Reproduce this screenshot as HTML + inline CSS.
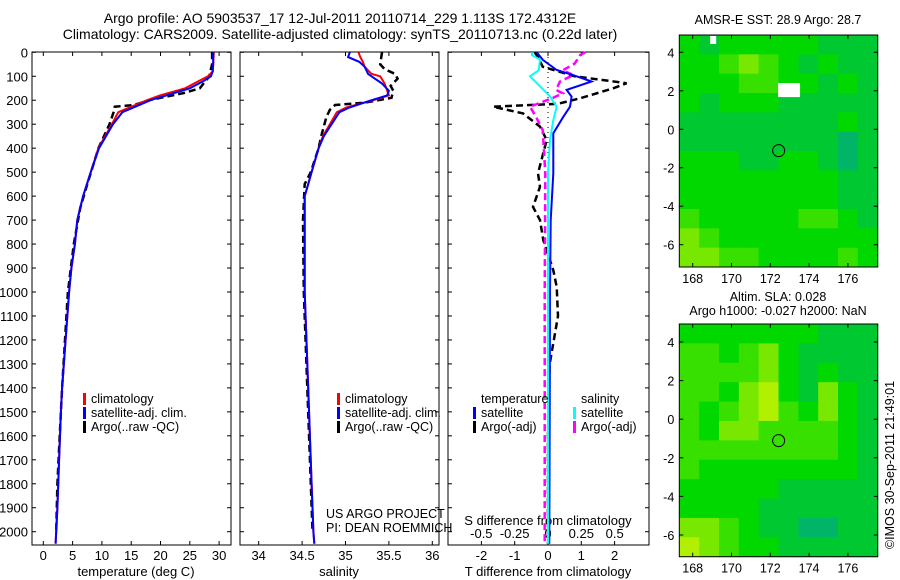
<!DOCTYPE html>
<html><head><meta charset="utf-8"><style>
body{margin:0;background:#fff}
svg{display:block;font-family:"Liberation Sans",sans-serif}
</style></head><body>
<svg id="c" width="900" height="580" viewBox="0 0 900 580" xmlns="http://www.w3.org/2000/svg">
<rect width="900" height="580" fill="#fff"/>
<text x="340" y="23" font-size="14" text-anchor="middle">Argo profile: AO 5903537_17 12-Jul-2011 20110714_229 1.113S 172.4312E</text>
<text x="340" y="39" font-size="14" text-anchor="middle">Climatology: CARS2009. Satellite-adjusted climatology: synTS_20110713.nc (0.22d later)</text>
<text x="778" y="24" font-size="12.5" text-anchor="middle">AMSR-E SST: 28.9 Argo: 28.7</text>
<text x="778" y="301" font-size="12.5" text-anchor="middle">Altim. SLA: 0.028</text>
<text x="778" y="315" font-size="12.5" text-anchor="middle">Argo h1000: -0.027 h2000: NaN</text>
<text transform="translate(894,465) rotate(-90)" font-size="12.5" text-anchor="middle">©IMOS 30-Sep-2011 21:49:01</text>
<text x="326" y="518" font-size="12.5">US ARGO PROJECT</text>
<text x="326" y="532" font-size="12.5">PI: DEAN ROEMMICH</text>
<g id="g"></g>
</svg>
<script>
// ---- data ----
const depthT = [0,50,80,100,120,150,180,200,250,300,400,500,600,700,800,900,1000,1200,1400,1500,1700,1900,2000,2050];
const tempClim = [29.1,29.0,28.9,28.1,26.5,24.2,19.9,17.7,12.8,11.7,9.4,8.1,6.8,5.8,5.4,4.8,4.4,3.8,3.2,3.0,2.7,2.4,2.2,2.1];
const tempSat  = [29.0,29.0,28.9,28.6,27.3,25.0,21.0,18.3,13.5,11.9,9.5,8.1,6.8,5.8,5.4,4.8,4.4,3.8,3.2,3.0,2.7,2.4,2.2,2.1];
const depthTA = [0,50,100,110,150,170,200,220,227,250,300,400,550,650,800,1000,1200,1400,1600,1800,2000];
const tempArgo = [28.8,28.8,28.3,28.0,26.7,24.0,18.0,15.5,12.2,12.0,11.3,9.4,7.5,6.3,5.2,4.2,3.7,3.2,2.8,2.4,2.2];
const depthS = [0,20,40,60,90,100,130,160,180,200,230,250,300,350,400,500,550,600,1000,1400,1600,1800,2000,2050];
const salClim = [35.15,35.17,35.2,35.22,35.3,35.4,35.45,35.48,35.5,35.32,35.01,34.9,34.82,34.74,34.69,34.61,34.57,34.53,34.53,34.57,34.59,34.61,34.63,34.64];
const salSat  = [35.05,35.03,35.16,35.22,35.26,35.3,35.42,35.5,35.48,35.3,35.05,34.93,34.84,34.75,34.69,34.61,34.57,34.53,34.53,34.57,34.59,34.61,34.63,34.64];
const depthSA = [0,50,70,90,110,140,160,190,210,220,240,270,350,400,500,550,700,1000,1400,1800,2000];
const salArgo = [35.42,35.4,35.45,35.57,35.6,35.52,35.55,35.53,35.23,34.88,34.82,34.78,34.72,34.69,34.6,34.53,34.51,34.52,34.56,34.6,34.62];
const depthD = [0,32,74,95,122,157,185,227,269,338,505,700,1000,1500,2050];
const dTsat = [-0.34,-0.15,0.26,0.75,1.31,0.56,0.71,0.66,0.46,0.16,0.16,0.08,0.06,0.05,0.04];
const depthDA = [0,20,60,100,129,150,192,215,227,255,310,366,505,561,645,700,784,909,979,1100,1300,1600,2050];
const dTargo = [-0.4,-0.3,-0.16,0.8,2.36,1.96,0.96,0.3,-1.65,-0.75,-0.24,-0.04,-0.3,-0.24,-0.45,-0.24,-0.14,0.16,0.26,0.3,0.05,0.0,0.0];
const depthDS = [0,12,30,75,100,142,184,227,283,366,505,1000,2050];
const dSsat = [-0.12,-0.12,-0.06,-0.07,-0.135,-0.06,0.015,0.065,0.04,0.015,0.0,0.0,0.0];
const depthDSA = [0,12,47,75,95,122,157,171,192,227,269,324,505,1000,2050];
const dSargo = [0.28,0.24,0.2,0.11,0.19,0.09,0.06,0.11,0.03,-0.135,-0.09,-0.04,-0.02,-0.025,-0.025];
const depthTicks = [0,100,200,300,400,500,600,700,800,900,1000,1100,1200,1300,1400,1500,1600,1700,1800,1900,2000];
const tempTicks = [0,5,10,15,20,25,30];
const salTicks = [34,34.5,35,35.5,36];
const salTickLabels = ["34","34.5","35","35.5","36"];
const tdTicks = [-2,-1,0,1,2];
const sdTicks = [-0.5,-0.25,0,0.25,0.5];
const sdTickLabels = ["-0.5","-0.25","0","0.25","0.5"];
const latTicks = [4,2,0,-2,-4,-6];
const lonTicks = [168,170,172,174,176];
const floatLon = 172.43, floatLat = -1.11;
const sstGrid = [
[2,1,2,2,2,2,2,1,1,1],[2,2,3,4,3,2,1,2,1,1],[2,2,2,3,3,2,2,1,2,1],[2,1,2,2,2,1,1,1,1,1],
[1,1,1,1,1,1,1,1,2,1],[1,1,1,1,1,1,1,1,0,1],[2,2,2,1,1,2,2,1,0,1],[2,2,2,2,2,2,2,2,1,1],
[2,2,2,2,2,2,2,2,1,1],[3,2,2,2,2,2,3,3,2,1],[4,3,2,2,2,2,2,2,2,2],[4,4,3,3,2,2,2,2,3,2]];
const slaGrid = [
[2,2,2,2,2,2,2,1,1,1],[3,3,2,3,4,2,1,1,1,1],[3,3,3,3,4,2,1,2,1,1],[3,3,2,4,5,2,1,4,2,1],
[3,2,3,4,5,3,2,4,2,1],[3,2,4,4,3,3,3,3,2,1],[3,3,3,3,3,3,3,3,2,1],[3,2,2,2,2,2,2,2,2,1],
[2,2,2,2,2,1,1,1,1,1],[2,2,2,2,1,1,1,1,1,1],[4,4,3,2,1,1,0,0,1,1],[5,4,3,2,2,1,1,1,1,1]];
const levelColors = ["#00b468","#00c830","#00d800","#38e000","#78e800","#b0f000"];

// ---- drawing ----
const NS="http://www.w3.org/2000/svg", G=document.getElementById('g');
function mk(tag,at,parent){const e=document.createElementNS(NS,tag);for(const k in at)e.setAttribute(k,at[k]);(parent||G).appendChild(e);return e;}
const yTop=52.3, yPer=0.2397;
const yD=d=>yTop+d*yPer;
const xT=t=>43.3+t*5.86;
const xS=s=>258.7+(s-34)*86.8;
const xDT=t=>548+t*33.3;
const xDS=s=>548+s*133.3;
function line(xs,ds,xf,color,dash,name){
  const p=mk('polyline',{points:xs.map((v,i)=>xf(v).toFixed(1)+','+yD(ds[i]).toFixed(1)).join(' '),fill:'none',stroke:color,'stroke-width':dash?2.5:2,'stroke-dasharray':dash?'7,4':'none'});
  
  
}
function panel(x0,x1,name){
  const r=mk('rect',{x:x0,y:52,width:x1-x0,height:493,fill:'none',stroke:'#000','stroke-width':1});
  
  
  depthTicks.forEach(d=>{mk('line',{x1:x0,x2:x0+4,y1:yD(d),y2:yD(d),stroke:'#000'});mk('line',{x1:x1,x2:x1-4,y1:yD(d),y2:yD(d),stroke:'#000'});});
}
panel(32,231,'temperature-panel');
panel(240,439,'salinity-panel');
panel(448,649,'difference-panel');
depthTicks.forEach(d=>{const t=mk('text',{x:28,y:yD(d)+5,'font-size':13,'text-anchor':'end'});t.textContent=d;
  
  });
function xticks(vals,labels,xf,yl,ticks){vals.forEach((v,i)=>{
  if(ticks){mk('line',{x1:xf(v),x2:xf(v),y1:52,y2:56,stroke:'#000'});mk('line',{x1:xf(v),x2:xf(v),y1:545,y2:541,stroke:'#000'});}
  const t=mk('text',{x:xf(v),y:yl,'font-size':13,'text-anchor':'middle'});t.textContent=labels[i];
  
  });}
xticks(tempTicks,tempTicks.map(String),xT,560,true);
xticks(salTicks,salTickLabels,xS,560,true);
xticks(tdTicks,tdTicks.map(String),xDT,560,true);
xticks(sdTicks,sdTickLabels,xDS,538,false);
[['temperature (deg C)',136,'temperature-axis-title'],['salinity',339,'salinity-axis-title'],['T difference from climatology',548,'t-diff-axis-title']].forEach(a=>{
  const t=mk('text',{x:a[1],y:576,'font-size':13,'text-anchor':'middle'});t.textContent=a[0];
  
  });
{const t=mk('text',{x:548,y:525,'font-size':13,'text-anchor':'middle'});t.textContent='S difference from climatology';
  
  }
// zero line
mk('line',{x1:548,x2:548,y1:52,y2:545,stroke:'#000','stroke-dasharray':'1,4'});
line(tempArgo,depthTA,xT,'#000',true,'temp-argo-line');
line(tempClim,depthT,xT,'#f00',false,'temp-clim-line');
line(tempSat,depthT,xT,'#00f',false,'temp-sat-line');
line(salArgo,depthSA,xS,'#000',true,'sal-argo-line');
line(salClim,depthS,xS,'#f00',false,'sal-clim-line');
line(salSat,depthS,xS,'#00f',false,'sal-sat-line');
line(dTargo,depthDA,xDT,'#000',true,'tdiff-argo-line');
line(dSargo,depthDSA,xDS,'#f0f',true,'sdiff-argo-line');
line(dTsat,depthD,xDT,'#00f',false,'tdiff-sat-line');
line(dSsat,depthDS,xDS,'#0ff',false,'sdiff-sat-line');
// legends
function leg(x,y,color,label,name){if(color)mk('rect',{x:x,y:y-10,width:3,height:12,fill:color});
  const t=mk('text',{x:x+8,y:y,'font-size':12.5});t.textContent=label;
  
  }
[[83,'climatology','#f00'],[83,'satellite-adj. clim.','#00f'],[83,'Argo(..raw -QC)','#000']].forEach((a,i)=>{leg(a[0],403+i*14,a[2],a[1],'temp-legend-entry');leg(337,403+i*14,a[2],a[1],'sal-legend-entry');});
leg(473,403,null,'temperature','diff-legend-temp-header');
leg(473,417,'#00f','satellite','diff-legend-temp-sat');
leg(473,431,'#000','Argo(-adj)','diff-legend-temp-argo');
leg(573,403,null,'salinity','diff-legend-sal-header');
leg(573,417,'#0ff','satellite','diff-legend-sal-sat');
leg(573,431,'#f0f','Argo(-adj)','diff-legend-sal-argo');
// maps
const mx0=679.3,mx1=877.7;
const xL=l=>692.7+(l-168)*19.4;
function map(grid,yT,yB,lat4,latPer,name){
  const gEl=mk('g',{});
  
  
  const yLat=l=>lat4+(4-l)*latPer;
  const rows=grid.length, cols=grid[0].length, cw=(mx1-mx0)/cols, ch=(yB-yT)/rows;
  grid.forEach((row,r)=>row.forEach((v,c)=>{const cell=mk('rect',{x:mx0+c*cw,y:yT+r*ch,width:cw+0.5,height:ch+0.5,fill:levelColors[v]},gEl);
    
    }));
  mk('rect',{x:mx0,y:yT,width:mx1-mx0,height:yB-yT,fill:'none',stroke:'#000'},gEl);
  latTicks.forEach(l=>{const y=yLat(l);mk('line',{x1:mx0,x2:mx0+4,y1:y,y2:y,stroke:'#000'},gEl);mk('line',{x1:mx1,x2:mx1-4,y1:y,y2:y,stroke:'#000'},gEl);
    const t=mk('text',{x:mx0-5,y:y+5,'font-size':12.5,'text-anchor':'end'},gEl);t.textContent=l;
    
    });
  lonTicks.forEach(l=>{const x=xL(l);mk('line',{x1:x,x2:x,y1:yT,y2:yT+4,stroke:'#000'},gEl);mk('line',{x1:x,x2:x,y1:yB,y2:yB-4,stroke:'#000'},gEl);
    const t=mk('text',{x:x,y:yB+16,'font-size':12.5,'text-anchor':'middle'},gEl);t.textContent=l;
    
    });
  const c=mk('circle',{cx:xL(floatLon),cy:yLat(floatLat),r:6,fill:'none',stroke:'#000'},gEl);
  
  
  return yLat;
}
const yl1=map(sstGrid,35,267,52.3,19.24,'sst-map');
mk('rect',{x:xL(172.4),y:yl1(2.4),width:22,height:14,fill:'#fff'});
mk('rect',{x:xL(168.9),y:36,width:6,height:8,fill:'#fff'});
map(slaGrid,324,556.7,342,19.3,'sla-map');
</script>
</body></html>
